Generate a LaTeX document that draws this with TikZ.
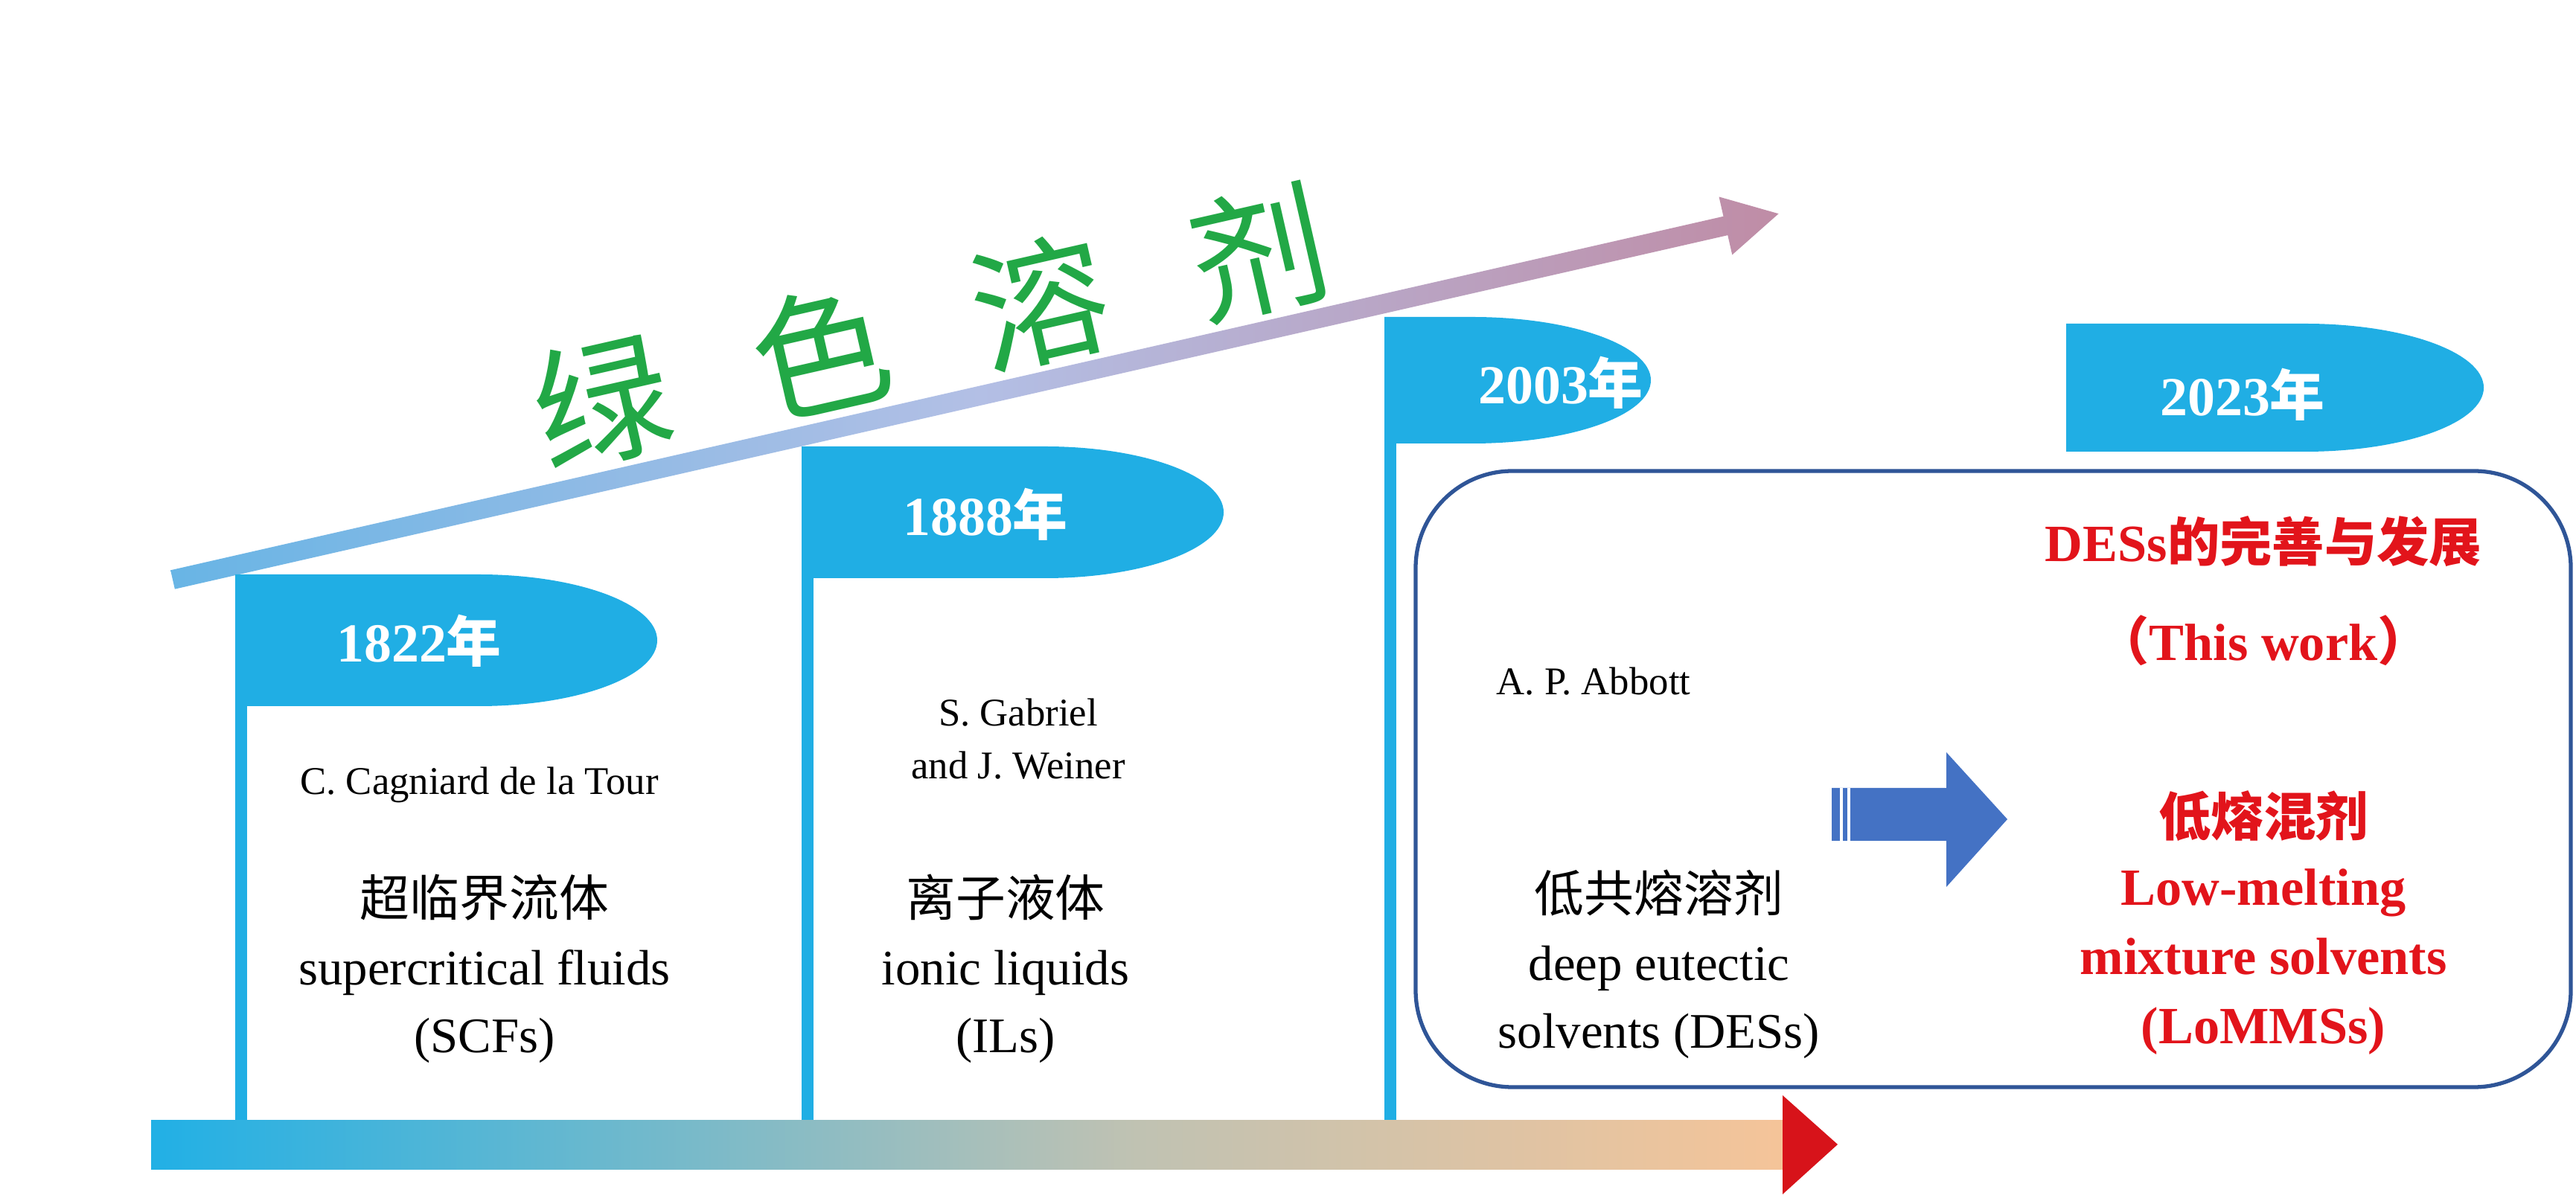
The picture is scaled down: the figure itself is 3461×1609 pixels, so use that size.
\documentclass[tikz,border=0pt]{standalone}
\usepackage{fontspec}
\setmainfont{Liberation Serif}
\newfontfamily\cjk{Noto Sans CJK SC}
\usetikzlibrary{positioning}
\definecolor{flagblue}{RGB}{32,174,228}
\definecolor{boxblue}{RGB}{47,85,151}
\definecolor{arrblue}{RGB}{68,114,196}
\definecolor{redtxt}{RGB}{226,20,27}
\definecolor{greentxt}{RGB}{34,168,70}
\pgfdeclarehorizontalshading{timeline}{100bp}{rgb(0bp)=(0.13,0.69,0.9); rgb(25bp)=(0.13,0.69,0.9);
  rgb(55bp)=(0.75,0.76,0.7); rgb(75bp)=(0.96,0.77,0.6); rgb(85bp)=(0.96,0.72,0.6); rgb(100bp)=(0.91,0.08,0.11)}
\pgfdeclarehorizontalshading{slant}{100bp}{rgb(0bp)=(0.13,0.69,0.9); rgb(20bp)=(0.35,0.7,0.9);
  rgb(50bp)=(0.7,0.75,0.9); rgb(75bp)=(0.75,0.55,0.65); rgb(92bp)=(0.9,0.15,0.2); rgb(100bp)=(0.91,0.1,0.15)}
\begin{document}
\begin{tikzpicture}[x=0.01cm,y=0.01cm,
    flag/.style={fill=flagblue},
    year/.style={text=white,font=\fontsize{21}{24}\selectfont\bfseries},
    author/.style={align=center,font=\fontsize{15}{20}\selectfont},
    solvname/.style={align=center,font=\fontsize{19}{26}\selectfont},
    redname/.style={align=center,text=redtxt,font=\fontsize{20}{26.5}\selectfont\bfseries}
  ]
  \useasboundingbox (0,0) rectangle (3461,1609);

  % timeline
  \shade[shading=timeline] (203,38) rectangle (2396,104);
  \fill[redtxt!95!black] (2395,137) -- (2469,71) -- (2395,4) -- cycle;

  % slanted arrow
  \begin{scope}[shift={(232,830)},rotate=12.84]
    \shade[shading=slant] (0,-13) -- (2140,-13) -- (2140,-40) -- (2213,0) -- (2140,40) -- (2140,13) -- (0,13) -- cycle;
  \end{scope}
  \node[rotate=12.84,text=greentxt,font=\cjk\fontsize{52}{60}\selectfont] (title) at (1250,1170)
    {绿\hspace{0.65em}色\hspace{0.65em}溶\hspace{0.65em}剂};

  % poles and flags
  \fill[flag] (316,104) rectangle (332,837);
  \fill[flag] (316,837) -- (643,837) arc[start angle=90,end angle=-90,x radius=240,y radius=88.5] -- (316,660) -- cycle;
  \fill[flag] (1077,104) rectangle (1093,1009);
  \fill[flag] (1077,1009) -- (1404,1009) arc[start angle=90,end angle=-90,x radius=240,y radius=88.5] -- (1077,832) -- cycle;
  \fill[flag] (1860,104) rectangle (1876,1183);
  \fill[flag] (1860,1183) -- (1978,1183) arc[start angle=90,end angle=-90,x radius=240,y radius=85] -- (1860,1013) -- cycle;
  \fill[flag] (2776,1174) -- (3097,1174) arc[start angle=90,end angle=-90,x radius=240,y radius=86] -- (2776,1002) -- cycle;

  \node[year] (y1822) at (563,748) {1822{\cjk 年}};
  \node[year] (y1888) at (1324,918) {1888{\cjk 年}};
  \node[year] (y2003) at (2097,1095) {2003{\cjk 年}};
  \node[year] (y2023) at (3013,1079) {2023{\cjk 年}};

  % box for this work
  \draw[boxblue,line width=1.5pt,rounded corners=1.3cm] (1902,148) rectangle (3454,976);

  % block arrow
  \fill[arrblue] (2461,479) -- (2615,479) -- (2615,417) -- (2697,508) -- (2615,598) -- (2615,550) -- (2461,550) -- cycle;
  \draw[white,line width=1pt] (2474,479) -- (2474,550) (2484,479) -- (2484,550);

  % texts
  \node[author] (cagniard) at (644,554) {C. Cagniard de la Tour};
  \node[author] (gabriel) at (1368,616) {S. Gabriel\\and J. Weiner};
  \node[author] (abbott) at (2141,693) {A. P. Abbott};

  \node[solvname] (scf) at (651,307) {{\cjk 超临界流体}\\supercritical fluids\\(SCFs)};
  \node[solvname] (il) at (1351,307) {{\cjk 离子液体}\\ionic liquids\\(ILs)};
  \node[solvname] (des) at (2229,313) {{\cjk 低共熔溶剂}\\deep eutectic\\solvents (DESs)};

  \node[redname] (devel) at (3041,881) {DESs{\cjk\bfseries 的完善与发展}};
  \node[redname] (thiswork) at (3041,748) {{\cjk （}This work{\cjk ）}};
  \node[redname] (lomms) at (3041,369) {{\cjk 低熔混剂}\\Low-melting\\mixture solvents\\(LoMMSs)};
\end{tikzpicture}
\end{document}
